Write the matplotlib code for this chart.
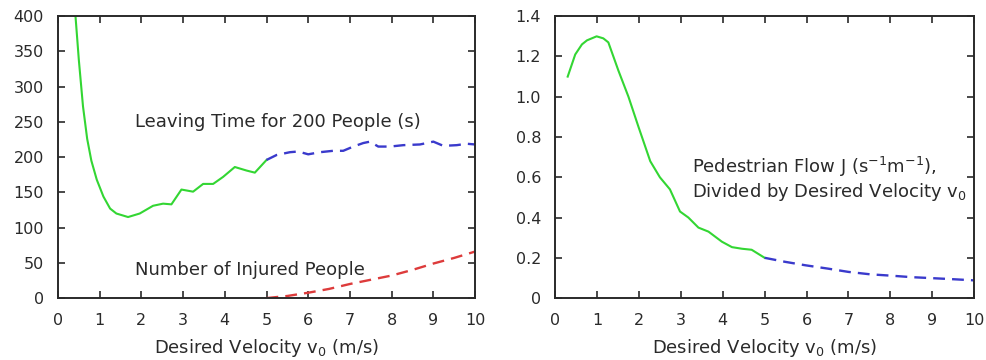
import numpy as np
import matplotlib.pyplot as plt

plt.rcParams['font.family'] = ['DejaVu Sans']

# left panel: leaving time (s) and injured people
leave_v_slow = [0.42, 0.5, 0.6, 0.7, 0.8, 0.93, 1.09, 1.25, 1.4, 1.68, 1.96, 2.28, 2.52, 2.72, 2.96,
                3.24, 3.48, 3.72, 3.96, 4.24, 4.52, 4.72, 5.0]
leave_t_slow = [400, 338, 272, 226, 195, 168, 144, 127, 120, 115, 120, 131, 134, 133, 154,
                151, 162, 162, 172, 186, 181, 178, 196]
leave_v_fast = [5.0, 5.24, 5.56, 5.76, 6.0, 6.28, 6.6, 6.84, 7.08, 7.32, 7.48, 7.68,
                7.96, 8.28, 8.68, 9.0, 9.24, 9.56, 9.8, 10.0]
leave_t_fast = [196, 203, 207, 208, 204, 207, 209, 209, 215, 220, 222, 215,
                215, 217, 218, 222, 216, 217, 219, 218]
injured_v = [5.0, 5.5, 6.0, 6.5, 7.0, 7.5, 8.0, 8.5, 9.0, 9.5, 10.0]
injured_n = [0, 3, 7.6, 13, 20, 26, 32, 40, 49, 57, 66]

# right panel: flow divided by desired velocity
flow_v_slow = [0.3, 0.48, 0.64, 0.76, 0.99, 1.15, 1.27, 1.51, 1.75, 1.99, 2.27, 2.5,
               2.74, 2.98, 3.18, 3.42, 3.66, 3.98, 4.22, 4.46, 4.69, 5.0]
flow_j_slow = [1.10, 1.21, 1.26, 1.28, 1.30, 1.29, 1.27, 1.13, 1.0, 0.85, 0.68, 0.60,
               0.54, 0.43, 0.40, 0.35, 0.33, 0.28, 0.253, 0.245, 0.24, 0.20]
flow_v_fast = [5.0, 5.49, 5.97, 6.52, 7.0, 7.52, 8.04, 8.5, 8.99, 9.47, 10.0]
flow_j_fast = [0.20, 0.18, 0.163, 0.146, 0.13, 0.118, 0.111, 0.104, 0.099, 0.094, 0.088]

green = '#33d633'
blue = '#3a3acc'
red = '#dd3b3b'
txt = '#2a2a2a'
fs_tick = 11.5
fs_txt = 13

fig = plt.figure(figsize=(9.86, 3.6), dpi=100)
ax1 = fig.add_axes([0.0588, 0.172, 0.423, 0.783])
ax2 = fig.add_axes([0.563, 0.172, 0.425, 0.783])

ax1.plot(leave_v_slow, leave_t_slow, color=green, lw=1.5)
ax1.plot(leave_v_fast, leave_t_fast, color=blue, lw=1.7, dashes=(5, 3))
ax1.plot(injured_v, injured_n, color=red, lw=1.7, dashes=(5, 3))
ax1.set_xlim(0, 10)
ax1.set_ylim(0, 400)
ax1.set_yticks(np.arange(0, 401, 50))
ax1.text(1.85, 250, 'Leaving Time for 200 People (s)', fontsize=fs_txt, va='center', color=txt)
ax1.text(1.85, 40, 'Number of Injured People', fontsize=fs_txt, va='center', color=txt)

ax2.plot(flow_v_slow, flow_j_slow, color=green, lw=1.5)
ax2.plot(flow_v_fast, flow_j_fast, color=blue, lw=1.7, dashes=(5, 3))
ax2.set_xlim(0, 10)
ax2.set_ylim(0, 1.4)
ax2.set_yticks([0, 0.2, 0.4, 0.6, 0.8, 1.0, 1.2, 1.4])
ax2.set_yticklabels(['0', '0.2', '0.4', '0.6', '0.8', '1.0', '1.2', '1.4'])
ax2.text(3.27, 0.65, 'Pedestrian Flow J (s$^{-1}$m$^{-1}$),', fontsize=fs_txt, va='center', color=txt)
ax2.text(3.27, 0.525, 'Divided by Desired Velocity v$_0$', fontsize=fs_txt, va='center', color=txt)

for ax in (ax1, ax2):
    ax.set_xticks(range(0, 11))
    ax.tick_params(direction='in', top=True, right=True, length=5, width=1.2,
                   labelsize=fs_tick, colors=txt)
    ax.tick_params(axis='x', pad=11)
    ax.tick_params(axis='y', pad=10)
    for s in ax.spines.values():
        s.set_linewidth(1.4)
        s.set_color(txt)
    ax.set_xlabel('Desired Velocity v$_0$ (m/s)', fontsize=fs_txt, labelpad=6, color=txt)

plt.savefig('out.png', dpi=100)
